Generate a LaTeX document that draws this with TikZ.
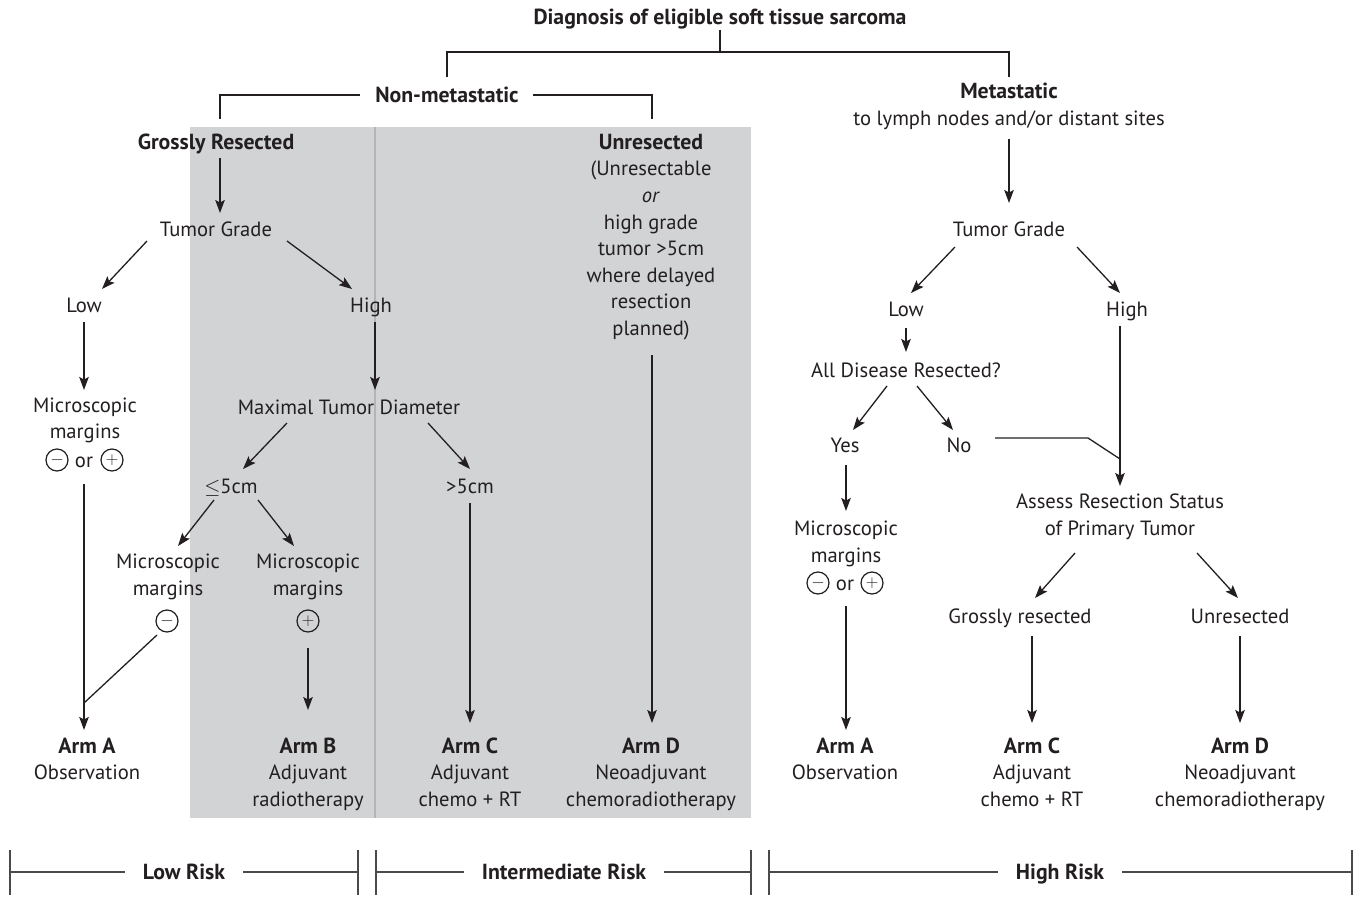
\documentclass[tikz,border=0pt]{standalone}
\usepackage{fontspec}
\setmainfont{PT Sans}
\usetikzlibrary{arrows.meta,calc}
\definecolor{ink}{HTML}{231F20}
\definecolor{boxgray}{HTML}{D1D3D4}
\definecolor{divgray}{HTML}{B3B5B7}
\definecolor{riskline}{HTML}{4A4A4A}
\newcommand{\bfbig}[1]{{\fontsize{21.8}{26.6}\selectfont\bfseries #1}}
\newcommand{\mystrut}{\rule[-4pt]{0pt}{23.5pt}}
\begin{document}
\begin{tikzpicture}[x=1pt,y=-1pt,
  txt/.style={font=\fontsize{20.6}{26.6}\selectfont, inner sep=0pt, align=center, text=ink,
     execute at begin node=\mystrut, execute at end node=\mystrut},
  bftxt/.style={txt, font=\fontsize{21.8}{26.6}\selectfont\bfseries},
  arr/.style={draw=ink, line width=1.3pt, -{Stealth[length=13pt,width=9.5pt,inset=2.5pt]}},
  ln/.style={draw=ink, line width=1.3pt},
  sgn/.style={circle, draw=ink, line width=1.2pt, minimum size=22pt, inner sep=0pt, text=ink, font=\fontsize{18}{18}\selectfont},
  rline/.style={draw=riskline, line width=1.6pt},
  rtick/.style={draw=riskline, line width=1.1pt}]
\useasboundingbox (0,0) rectangle (1360,899);
\fill[white] (0,0) rectangle (1360,899);
% shaded region
\fill[boxgray] (190,127) rectangle (751,818);
\draw[divgray, line width=1.2pt] (375,127) -- (375,818);

% ---- nodes: top
\node[bftxt] (title) at (720,17) {Diagnosis of eligible soft tissue sarcoma};
\node[bftxt] (nonmet) at (447,95) {Non-metastatic};
\node[txt] (met) at (1009,106.5) {\bfbig{Metastatic}\\to lymph nodes and/or distant sites};

% ---- left / middle
\node[bftxt] (gross) at (216,142) {Grossly Resected};
\node[txt] (unres) at (651,237) {\bfbig{Unresected}\\(Unresectable\\\textit{or}\\high grade\\tumor >5cm\\where delayed\\resection\\planned)};
\node[txt] (tgL) at (216,229) {Tumor Grade};
\node[txt] (lowL) at (84,305) {Low};
\node[txt] (highL) at (371,305) {High};
\node[txt] (mmL) at (85,420.5) {Microscopic\\margins};
\node[sgn] (mnL) at (57,460) {$-$};
\node[txt] (orL) at (84,460) {or};
\node[sgn] (plL) at (112,460) {$+$};
\node[txt] (mtd) at (349,407) {Maximal Tumor Diameter};
\node[txt] (le5) at (231,486) {$\leq$5cm};
\node[txt] (gt5) at (470,486) {>5cm};
\node[txt] (mm2) at (168,577) {Microscopic\\margins};
\node[sgn] (mn2) at (167,621) {$-$};
\node[txt] (mm3) at (308,577) {Microscopic\\margins};
\node[sgn] (pl3) at (308,621) {$+$};
\node[txt] (armA) at (87,761) {\bfbig{Arm A}\\Observation};
\node[txt] (armB) at (308,774) {\bfbig{Arm B}\\Adjuvant\\radiotherapy};
\node[txt] (armC) at (470,774) {\bfbig{Arm C}\\Adjuvant\\chemo + RT};
\node[txt] (armD) at (651,774) {\bfbig{Arm D}\\Neoadjuvant\\chemoradiotherapy};

% ---- right
\node[txt] (tgR) at (1009,229) {Tumor Grade};
\node[txt] (lowR) at (906,309) {Low};
\node[txt] (highR) at (1127,309) {High};
\node[txt] (ads) at (906,370) {All Disease Resected?};
\node[txt] (yes) at (845,445) {Yes};
\node[txt] (no) at (959,445) {No};
\node[txt] (mmR) at (846,544) {Microscopic\\margins};
\node[sgn] (mnR) at (818,583) {$-$};
\node[txt] (orR) at (845,583) {or};
\node[sgn] (plR) at (872,583) {$+$};
\node[txt] (ars) at (1120,516.5) {Assess Resection Status\\of Primary Tumor};
\node[txt] (gr) at (1020,616) {Grossly resected};
\node[txt] (ur) at (1240,616) {Unresected};
\node[txt] (armAR) at (845,761) {\bfbig{Arm A}\\Observation};
\node[txt] (armCR) at (1032,774) {\bfbig{Arm C}\\Adjuvant\\chemo + RT};
\node[txt] (armDR) at (1240,774) {\bfbig{Arm D}\\Neoadjuvant\\chemoradiotherapy};

% ---- risk labels
\node[bftxt] (lowrisk) at (184,872) {Low Risk};
\node[bftxt] (intrisk) at (564,872) {Intermediate Risk};
\node[bftxt] (highrisk) at (1060,872) {High Risk};

% ---- connectors: top brackets
\draw[ln] ($(title)+(0,13)$) -- ++(0,22);
\draw[ln] ($(nonmet)+(0,-18)$) |- ($(met)+(0,-54.5)$) -- ($(met)+(0,-29.5)$);
\draw[ln] ($(nonmet)+(-87,0)$) -| ($(gross)+(4,-23)$);
\draw[ln] ($(nonmet)+(86,0)$) -| ($(unres)+(1,-118)$);

% ---- left branch
\draw[arr] ($(gross)+(4,16)$) -- ($(tgL)+(4,-16)$);
\draw[arr] ($(tgL)+(-69,12)$) -- ($(lowL)+(18,-16)$);
\draw[arr] ($(tgL)+(71,12)$) -- ($(highL)+(-19,-16)$);
\draw[arr] ($(lowL)+(0,17)$) -- ($(mmL)+(-1,-30.5)$);
\draw[arr] ($(mmL)+(-1,63.5)$) -- ($(armA)+(-3,-31)$);
\draw[ln] ($(mn2)+(-10,14)$) -- ($(armA)+(-3,-58)$);
\draw[arr] ($(highL)+(4,17)$) -- ($(mtd)+(26,-17)$);
\draw[arr] ($(mtd)+(-62,16)$) -- ($(le5)+(12,-17)$);
\draw[arr] ($(mtd)+(79,16)$) -- ($(gt5)+(0,-17)$);
\draw[arr] ($(le5)+(-17,14)$) -- ($(mm2)+(10,-31)$);
\draw[arr] ($(le5)+(27,14)$) -- ($(mm3)+(-14,-31)$);
\draw[arr] ($(pl3)+(0,27)$) -- ($(armB)+(0,-64)$);
\draw[arr] ($(gt5)+(0,17)$) -- ($(armC)+(0,-51)$);
\draw[arr] ($(unres)+(1,118)$) -- ($(armD)+(1,-51)$);

% ---- right branch
\draw[arr] ($(met)+(0,32.5)$) -- ($(tgR)+(0,-26)$);
\draw[arr] ($(tgR)+(-54,18)$) -- ($(lowR)+(5,-16)$);
\draw[arr] ($(tgR)+(68,18)$) -- ($(highR)+(-7,-16)$);
\draw[arr] ($(lowR)+(0,19)$) -- ($(ads)+(0,-18)$);
\draw[arr] ($(ads)+(-19,16)$) -- ($(yes)+(8,-15)$);
\draw[arr] ($(ads)+(11,16)$) -- ($(no)+(-6,-15)$);
\draw[arr] ($(yes)+(1,20)$) -- ($(mmR)+(0,-33)$);
\draw[arr] ($(mmR)+(0,62)$) -- ($(armAR)+(1,-31)$);
\draw[arr] ($(highR)+(-7,17)$) -- ($(ars)+(0,-30.5)$);
\draw[ln] ($(no)+(36,-7)$) -- ++(93,0) -- ($(ars)+(0,-57.5)$);
\draw[arr] ($(ars)+(-45,36.5)$) -- ($(gr)+(15,-18)$);
\draw[arr] ($(ars)+(77,36.5)$) -- ($(ur)+(-2,-18)$);
\draw[arr] ($(gr)+(12,20)$) -- ($(armCR)+(0,-51)$);
\draw[arr] ($(ur)+(0,20)$) -- ($(armDR)+(0,-51)$);

% ---- risk bars
\draw[rline] ($(lowrisk)+(-174,0)$) -- ([xshift=-18pt]lowrisk.west);
\draw[rline] ([xshift=18pt]lowrisk.east) -- ($(lowrisk)+(174,0)$);
\draw[rtick] ($(lowrisk)+(-174,-22)$) -- ($(lowrisk)+(-174,23)$);
\draw[rtick] ($(lowrisk)+(174,-22)$) -- ($(lowrisk)+(174,23)$);
\draw[rline] ($(intrisk)+(-188,0)$) -- ([xshift=-18pt]intrisk.west);
\draw[rline] ([xshift=18pt]intrisk.east) -- ($(intrisk)+(187,0)$);
\draw[rtick] ($(intrisk)+(-188,-22)$) -- ($(intrisk)+(-188,23)$);
\draw[rtick] ($(intrisk)+(187,-22)$) -- ($(intrisk)+(187,23)$);
\draw[rline] ($(highrisk)+(-291,0)$) -- ([xshift=-18pt]highrisk.west);
\draw[rline] ([xshift=18pt]highrisk.east) -- ($(highrisk)+(292,0)$);
\draw[rtick] ($(highrisk)+(-291,-22)$) -- ($(highrisk)+(-291,23)$);
\draw[rtick] ($(highrisk)+(292,-22)$) -- ($(highrisk)+(292,23)$);
\end{tikzpicture}
\end{document}
